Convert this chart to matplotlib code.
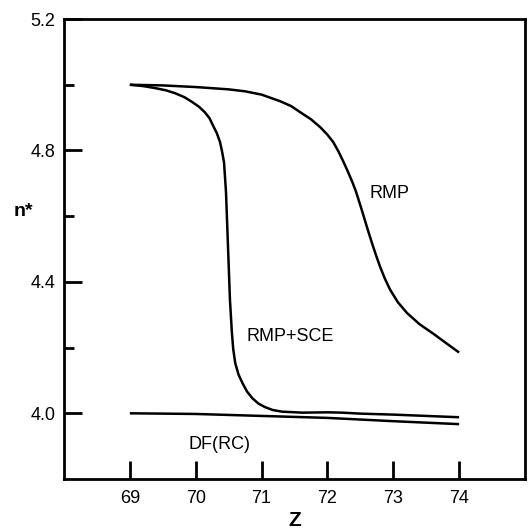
import matplotlib
matplotlib.use("Agg")
import matplotlib.pyplot as plt
from matplotlib.ticker import FixedLocator

plt.rcParams['font.family'] = ['Liberation Sans', 'DejaVu Sans']

# RMP curve
rmp_z = [69.0, 69.5, 70.0, 70.5, 70.75, 71.0, 71.28, 71.45, 71.59, 71.75, 71.89, 72.0,
         72.09, 72.17, 72.24, 72.31, 72.38, 72.43, 72.47, 72.52, 72.57, 72.62, 72.68,
         72.74, 72.80, 72.87, 72.95, 73.07, 73.21, 73.4, 73.61, 73.8, 74.0]
rmp_n = [5.000, 4.998, 4.993, 4.986, 4.980, 4.970, 4.950, 4.935, 4.916, 4.895, 4.871, 4.848,
         4.825, 4.796, 4.767, 4.736, 4.703, 4.677, 4.652, 4.620, 4.587, 4.554, 4.516,
         4.480, 4.446, 4.411, 4.377, 4.338, 4.305, 4.271, 4.242, 4.214, 4.185]

# RMP+SCE curve
sce_z = [69.0, 69.2, 69.38, 69.55, 69.69, 69.83, 69.95, 70.05, 70.14, 70.21, 70.26, 70.32,
         70.37, 70.40, 70.43, 70.46, 70.49, 70.52, 70.55, 70.57, 70.60, 70.65, 70.71,
         70.78, 70.86, 70.95, 71.05, 71.17, 71.31, 71.62, 72.0, 72.22, 72.5, 73.0, 73.5, 74.0]
sce_n = [5.000, 4.996, 4.990, 4.983, 4.974, 4.962, 4.947, 4.933, 4.916, 4.898, 4.877, 4.853,
         4.825, 4.797, 4.764, 4.673, 4.510, 4.345, 4.244, 4.195, 4.153, 4.118, 4.092,
         4.066, 4.046, 4.030, 4.019, 4.010, 4.005, 4.002, 4.003, 4.002, 3.999, 3.996, 3.992, 3.988]

# DF(RC) curve
df_z = [69.0, 70.0, 71.0, 72.0, 73.0, 74.0]
df_n = [4.000, 3.998, 3.992, 3.986, 3.976, 3.967]

xticks = [69, 70, 71, 72, 73, 74]
yticks = [4.0, 4.4, 4.8, 5.2]

fig = plt.figure(figsize=(5.32, 5.29), dpi=100)
ax = fig.add_axes([0.1203, 0.0945, 0.8665, 0.8695])

lw = 1.8
for z, n in [(rmp_z, rmp_n), (sce_z, sce_n), (df_z, df_n)]:
    ax.plot(z, n, color='black', lw=lw, solid_capstyle='butt', solid_joinstyle='round')

ax.set_xlim(68, 75)
ax.set_ylim(3.8, 5.2)
ax.xaxis.set_major_locator(FixedLocator(xticks))
ax.yaxis.set_major_locator(FixedLocator(yticks))
ax.yaxis.set_minor_locator(FixedLocator([4.2, 4.6, 5.0]))
ax.set_xticklabels([str(t) for t in xticks])
ax.set_yticklabels(['%.1f' % t for t in yticks])

for s in ax.spines.values():
    s.set_linewidth(2.0)

ax.tick_params(axis='x', which='major', direction='in', length=13, width=2.0,
               labelsize=13, pad=8, top=False)
ax.tick_params(axis='y', which='major', direction='in', length=13, width=2.0,
               labelsize=13, pad=6, right=False)
ax.tick_params(axis='y', which='minor', direction='in', length=7, width=2.0, right=False)
ax.tick_params(axis='x', which='minor', bottom=False, top=False)

ax.text(72.95, 4.67, 'RMP', fontsize=13, ha='center', va='center')
ax.text(71.43, 4.235, 'RMP+SCE', fontsize=13, ha='center', va='center')
ax.text(70.36, 3.906, 'DF(RC)', fontsize=13, ha='center', va='center')

fig.text(23/532, 1 - 212/529, 'n*', fontsize=14, fontweight='bold', ha='center', va='center')
fig.text(295/532, 1 - 520/529, 'Z', fontsize=15, fontweight='bold', ha='center', va='center')

fig.savefig('out.png', dpi=100)
